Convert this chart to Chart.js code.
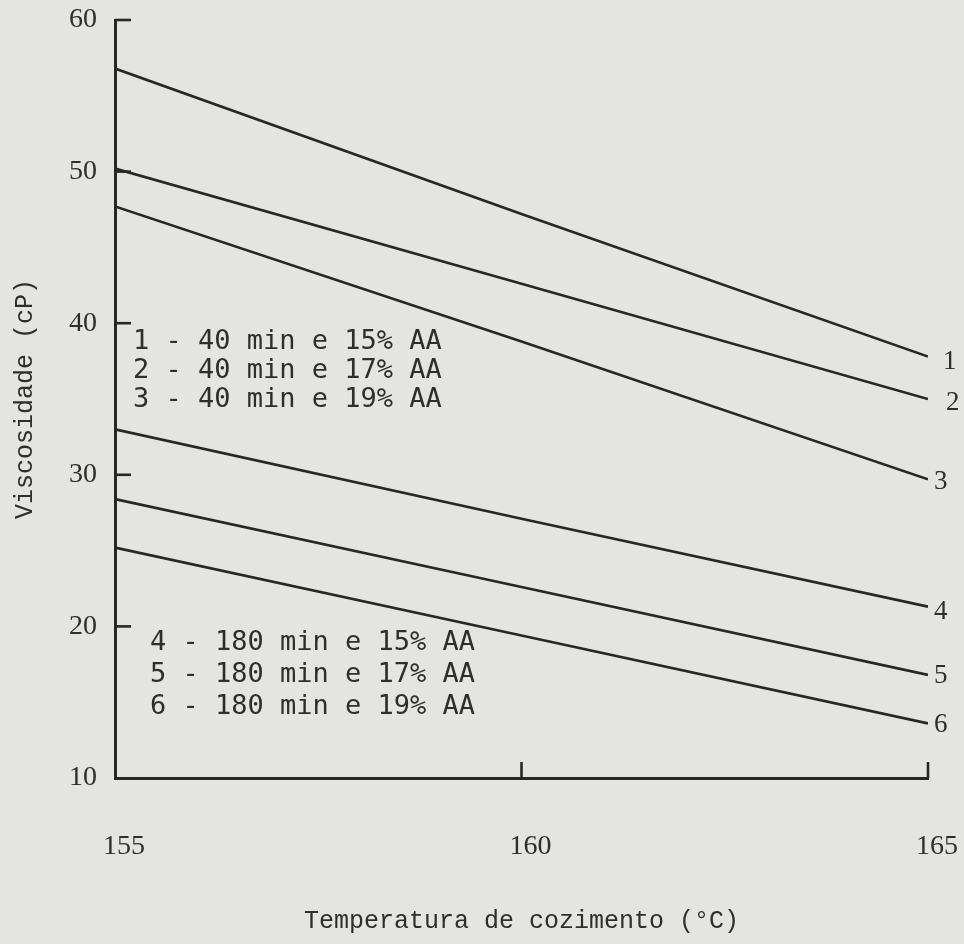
<!DOCTYPE html>
<html>
<head>
<meta charset="utf-8">
<script src="https://cdn.jsdelivr.net/npm/chart.js@4.4.0/dist/chart.umd.min.js"></script>
<style>
html,body{margin:0;padding:0;background:#e4e4e2;}
#wrap{width:964px;height:944px;}
</style>
</head>
<body>
<div id="wrap"><canvas id="c" width="964" height="944"></canvas></div>
<script>
// ---- data ----
const temperatures = [155, 160, 165];
const xTickValues = [155, 160, 165];
const yTickValues = [10, 20, 30, 40, 50, 60];
const seriesNumbers = ['1', '2', '3', '4', '5', '6'];
const seriesLabels = [
  '40 min e 15% AA',
  '40 min e 17% AA',
  '40 min e 19% AA',
  '180 min e 15% AA',
  '180 min e 17% AA',
  '180 min e 19% AA'
];
const visc1 = [56.8, 47.2, 37.8];
const visc2 = [50.2, 42.6, 35.0];
const visc3 = [47.7, 38.8, 29.7];
const visc4 = [33.0, 27.1, 21.3];
const visc5 = [28.4, 22.6, 16.8];
const visc6 = [25.2, 19.4, 13.6];
const xTitle = 'Temperatura de cozimento (°C)';
const yTitle = 'Viscosidade (cP)';

const allSeries = [visc1, visc2, visc3, visc4, visc5, visc6];
const INK = '#272727';
const TEXT = '#2e2e2e';

const datasets = allSeries.map((vals, i) => ({
  label: seriesLabels[i],
  data: temperatures.map((t, j) => ({x: t, y: vals[j]})),
  borderColor: INK,
  borderWidth: 2.6,
  pointRadius: 0,
  tension: 0,
  fill: false
}));

function zeroPad(s) {
  s.paddingTop = 0; s.paddingBottom = 0; s.paddingLeft = 0; s.paddingRight = 0;
}

const decor = {
  id: 'decor',
  beforeDraw(chart) {
    const ctx = chart.ctx;
    ctx.save();
    ctx.fillStyle = '#e4e4e2';
    ctx.fillRect(0, 0, chart.width, chart.height);
    ctx.restore();
  },
  afterDraw(chart) {
    const ctx = chart.ctx;
    const xs = chart.scales.x, ys = chart.scales.y;
    ctx.save();
    // inward tick marks
    ctx.strokeStyle = INK;
    ctx.lineWidth = 2.6;
    yTickValues.forEach(v => {
      if (v === 10) return;
      const py = ys.getPixelForValue(v);
      ctx.beginPath();
      ctx.moveTo(xs.left, py);
      ctx.lineTo(xs.left + 16, py);
      ctx.stroke();
    });
    xTickValues.forEach(v => {
      if (v === 155) return;
      const px = xs.getPixelForValue(v);
      ctx.beginPath();
      ctx.moveTo(px, ys.bottom);
      ctx.lineTo(px, ys.bottom - 16);
      ctx.stroke();
    });
    // legend blocks
    ctx.fillStyle = TEXT;
    ctx.font = '27px "DejaVu Sans Mono"';
    ctx.textBaseline = 'middle';
    ctx.textAlign = 'left';
    const blocks = [
      {idx: [0, 1, 2], x: 133, y: 342, dy: 29},
      {idx: [3, 4, 5], x: 150, y: 643, dy: 32}
    ];
    blocks.forEach(b => {
      b.idx.forEach((k, r) => {
        ctx.fillText(seriesNumbers[k] + ' - ' + seriesLabels[k], b.x, b.y + r * b.dy);
      });
    });
    // end-of-line numbers
    const endOff = [[15, 5], [18, 4], [6, 3], [6, 5], [6, 1], [6, 1]];
    ctx.font = '27px "Liberation Serif"';
    chart.data.datasets.forEach((ds, i) => {
      const meta = chart.getDatasetMeta(i);
      const pt = meta.data[meta.data.length - 1];
      ctx.fillText(seriesNumbers[i], pt.x + endOff[i][0], pt.y + endOff[i][1]);
    });
    ctx.restore();
  }
};

new Chart(document.getElementById('c'), {
  type: 'line',
  data: {datasets},
  options: {
    responsive: false,
    animation: false,
    devicePixelRatio: 1,
    layout: {padding: {left: 0, right: 36, top: 20, bottom: 0}},
    plugins: {legend: {display: false}, tooltip: {enabled: false}},
    scales: {
      x: {
        type: 'linear',
        min: 155, max: 165,
        afterBuildTicks: s => { s.ticks = xTickValues.map(v => ({value: v})); },
        afterFit: s => { s.height = 166; zeroPad(s); },
        grid: {display: false, drawTicks: false},
        border: {display: true, color: INK, width: 3},
        ticks: {
          color: TEXT, padding: 52, labelOffset: 9,
          font: {family: '"Liberation Serif"', size: 28},
          maxRotation: 0
        },
        title: {
          display: true, text: xTitle, color: TEXT,
          font: {family: '"Liberation Mono"', size: 25},
          padding: {top: 0, bottom: 8}
        }
      },
      y: {
        type: 'linear',
        min: 10, max: 60,
        afterBuildTicks: s => { s.ticks = yTickValues.map(v => ({value: v})); },
        afterFit: s => { s.width = 115; zeroPad(s); },
        grid: {display: false, drawTicks: false},
        border: {display: true, color: INK, width: 3},
        ticks: {
          color: TEXT, padding: 18,
          font: {family: '"Liberation Serif"', size: 28}
        },
        title: {
          display: true, text: yTitle, color: TEXT,
          font: {family: '"Liberation Mono"', size: 25},
          padding: {top: 10, bottom: 0}
        }
      }
    }
  },
  plugins: [decor]
});
</script>
</body>
</html>
